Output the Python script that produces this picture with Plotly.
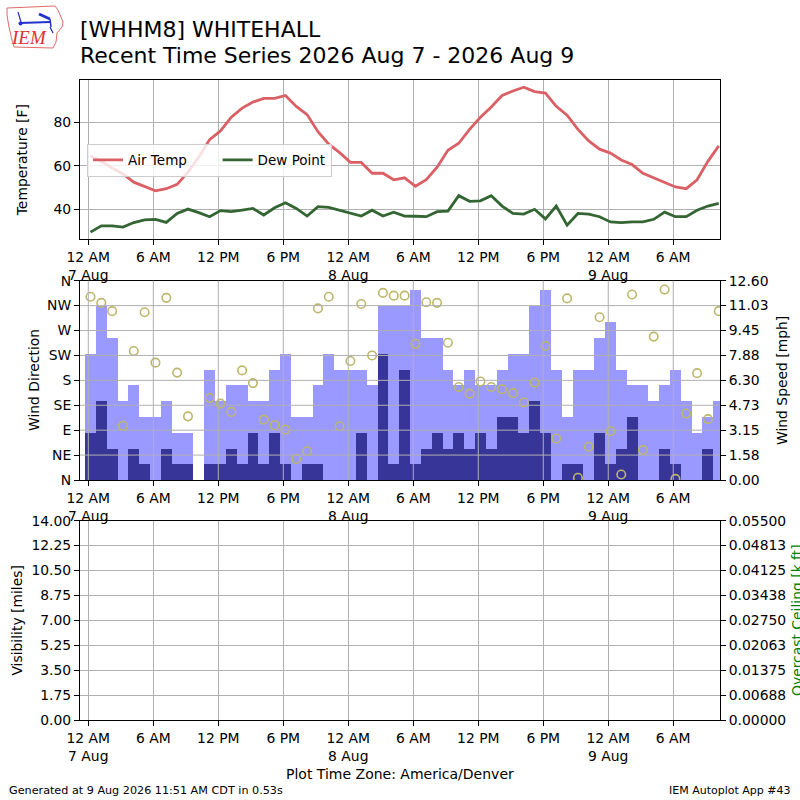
import pandas as pd
import plotly.graph_objects as go

# hourly obs, about 12 minutes past each hour (America/Denver)
times = pd.date_range("2026-08-07 00:12", periods=59, freq="h")

air_temp = [64.5, 62.0, 58.9, 56.2, 52.4, 50.5, 48.4, 49.4, 51.4, 57.0,
            64.0, 72.0, 76.0, 82.3, 86.5, 89.3, 91.0, 91.0, 92.3, 87.3,
            83.5, 75.6, 69.9, 66.0, 61.5, 61.5, 56.5, 56.5, 53.5, 54.4,
            50.5, 53.5, 59.3, 67.1, 70.3, 76.7, 82.3, 87.0, 92.3, 94.4,
            96.1, 94.1, 93.4, 87.3, 83.2, 76.7, 71.4, 67.6, 65.8, 62.6,
            60.5, 56.5, 54.4, 52.1, 50.2, 49.4, 53.5, 62.0, 69.1]
dew_point = [29.4, 32.3, 32.3, 31.7, 33.8, 35.0, 35.3, 33.9, 38.0, 40.0,
             38.4, 36.5, 39.3, 38.8, 39.5, 40.3, 37.3, 40.6, 42.9, 40.3,
             36.8, 41.1, 40.8, 39.5, 38.4, 36.8, 39.5, 36.8, 38.6, 36.8,
             36.7, 36.5, 38.8, 39.1, 46.2, 43.6, 43.8, 46.2, 41.4, 38.0,
             37.7, 39.9, 35.5, 41.4, 32.6, 38.0, 37.7, 36.5, 34.1, 33.8,
             34.1, 34.1, 35.3, 38.6, 36.5, 36.5, 39.5, 41.4, 42.6]
wind_gust = [8, 11, 9, 5, 6, 4, 4, 5, 3, 3,
             0, 7, 5, 6, 6, 5, 5, 7, 8, 4,
             4, 6, 8, 7, 7, 7, 6, 11, 11, 11,
             12, 9, 9, 7, 6, 7, 6, 6, 7, 8,
             8, 11, 12, 7, 4, 7, 7, 9, 10, 7,
             6, 6, 5, 6, 7, 5, 3, 4, 5]
wind_speed = [3, 5, 2, 0, 2, 1, 0, 2, 1, 1,
              0, 1, 1, 2, 1, 3, 1, 3, 1, 0,
              1, 1, 0, 0, 0, 3, 0, 8, 1, 7,
              1, 2, 3, 2, 3, 2, 3, 2, 4, 4,
              3, 5, 3, 0, 1, 1, 0, 3, 1, 2,
              4, 0, 0, 2, 1, 0, 0, 2, 0]
wind_dir = [331, 320, 305, 98, 233, 303, 212, 329, 194, 115,
            None, 148, 138, 123, 198, 175, 109, 99, 91, 38,
            52, 310, 331, 97, 215, 318, 225, 338, 333, 333,
            246, 321, 320, 248, 168, 156, 178, 168, 164, 157,
            140, 176, 242, 75, 328, 4, 60, 294, 88, 10,
            335, 54, 259, 344, 2, 120, 193, 110, 305]

x_ticks = pd.date_range("2026-08-07 00:00", periods=10, freq="6h")
x_ticktext = ["12 AM<br>7 Aug", "6 AM", "12 PM", "6 PM", "12 AM<br>8 Aug",
              "6 AM", "12 PM", "6 PM", "12 AM<br>9 Aug", "6 AM"]
x_range = ["2026-08-06 23:14", "2026-08-09 10:19"]

temp_ticks = [40, 60, 80]
dir_ticks = [0, 45, 90, 135, 180, 225, 270, 315, 360]
dir_labels = ["N", "NE", "E", "SE", "S", "SW", "W", "NW", "N"]
speed_ticks = [0, 1.575, 3.15, 4.725, 6.3, 7.875, 9.45, 11.025, 12.6]
speed_labels = ["0.00", "1.58", "3.15", "4.73", "6.30", "7.88", "9.45", "11.03", "12.60"]
vis_ticks = [0, 1.75, 3.5, 5.25, 7.0, 8.75, 10.5, 12.25, 14.0]
vis_labels = ["0.00", "1.75", "3.50", "5.25", "7.00", "8.75", "10.50", "12.25", "14.00"]
ceil_ticks = [0, 0.006875, 0.01375, 0.020625, 0.0275, 0.034375, 0.04125, 0.048125, 0.055]
ceil_labels = ["0.00000", "0.00688", "0.01375", "0.02063", "0.02750",
               "0.03438", "0.04125", "0.04813", "0.05500"]

FONT = "DejaVu Sans"
GRID = "#b0b0b0"
TS = 13.9
NBSP = "\u00a0"


def pp(xp, yp):
    # pixel -> paper (plot area is 80..720 both ways)
    return (xp - 80) / 640.0, (720 - yp) / 640.0


fig = go.Figure()

fig.add_trace(go.Scatter(x=times, y=air_temp, mode="lines", name="Air Temp" + NBSP * 6,
                         line=dict(color="#db6065", width=2.8), xaxis="x", yaxis="y"))
fig.add_trace(go.Scatter(x=times, y=dew_point, mode="lines", name="Dew Point",
                         line=dict(color="#346633", width=2.8), xaxis="x", yaxis="y"))

fig.add_trace(go.Bar(x=times, y=wind_gust, width=3600000, marker=dict(color="#9999ff", line=dict(width=0)),
                     showlegend=False, xaxis="x2", yaxis="y2"))
fig.add_trace(go.Bar(x=times, y=wind_speed, width=3600000, marker=dict(color="#373698", line=dict(width=0)),
                     showlegend=False, xaxis="x2", yaxis="y2"))
fig.add_trace(go.Scatter(x=times, y=wind_dir, mode="markers", showlegend=False,
                         marker=dict(symbol="circle-open", size=8.5, color="darkkhaki", line=dict(width=1.6)),
                         xaxis="x2", yaxis="y3"))

# empty visibility / ceiling panel
fig.add_trace(go.Scatter(x=[], y=[], showlegend=False, xaxis="x3", yaxis="y4"))
fig.add_trace(go.Scatter(x=[], y=[], showlegend=False, xaxis="x3", yaxis="y5"))

ax = dict(showline=True, linecolor="black", linewidth=1, mirror=True, ticks="outside",
          ticklen=5, tickwidth=1, tickcolor="black", gridcolor=GRID, gridwidth=1,
          zeroline=False, automargin=False, tickfont=dict(size=TS, color="black"))
xax = dict(ax, type="date", range=x_range, tickmode="array", tickvals=x_ticks, ticktext=x_ticktext)

fig.update_layout(
    width=800, height=800,
    margin=dict(l=80, r=80, t=80, b=80),
    paper_bgcolor="white", plot_bgcolor="white",
    font=dict(family=FONT, color="black", size=TS),
    barmode="overlay", bargap=0,
    xaxis=dict(xax, anchor="y"),
    xaxis2=dict(xax, anchor="y2", showgrid=False),
    xaxis3=dict(xax, anchor="y4"),
    yaxis=dict(ax, domain=[0.751, 1.0], range=[26.07, 99.44], tickvals=temp_ticks,
               title=dict(text="Temperature [F]", font=dict(size=TS), standoff=22)),
    yaxis2=dict(ax, domain=[0.375, 0.6864], anchor="x2", side="right", range=[0, 12.6],
                tickvals=speed_ticks, ticktext=speed_labels, showgrid=False,
                title=dict(text="Wind Speed [mph]", font=dict(size=TS), standoff=9)),
    yaxis3=dict(ax, anchor="x2", overlaying="y2", side="left", range=[0, 360],
                tickvals=dir_ticks, ticktext=dir_labels, showgrid=False),
    yaxis4=dict(ax, domain=[0, 0.3114], anchor="x3", range=[0, 14],
                tickvals=vis_ticks, ticktext=vis_labels,
                title=dict(text="Visibility [miles]", font=dict(size=TS), standoff=5)),
    yaxis5=dict(ax, anchor="x3", overlaying="y4", side="right", range=[0, 0.055],
                tickvals=ceil_ticks, ticktext=ceil_labels, showgrid=False),
    legend=dict(x=0.011, y=0.9005, xanchor="left", yanchor="top", orientation="h",
                bgcolor="rgba(255,255,255,0.8)", bordercolor="#cccccc", borderwidth=1,
                font=dict(size=13.5), itemwidth=30),
)

# wind panel grid is drawn over the bars
shapes = []
for t in x_ticks:
    shapes.append(dict(type="line", xref="x2", yref="y2 domain", x0=t, x1=t, y0=0, y1=1,
                       line=dict(color=GRID, width=1), layer="above"))
for v in speed_ticks[1:-1]:
    shapes.append(dict(type="line", xref="x2 domain", yref="y2", x0=0, x1=1, y0=v, y1=v,
                       line=dict(color=GRID, width=1), layer="above"))

# IEM logo, rough drawing
iowa = [(7, 8), (55, 6), (58, 10), (63, 22), (62, 27), (57, 33), (56, 42), (53, 48),
        (14, 47), (12, 40), (9, 27), (7, 15), (7, 8)]
path = "M " + " L ".join("%.5f,%.5f" % pp(a, b) for a, b in iowa) + " Z"
shapes.append(dict(type="path", xref="paper", yref="paper", path=path,
                   line=dict(color="#e06a6a", width=1)))
for (a, b, c, d, w) in [(20, 23, 50, 22, 2), (39, 14, 50, 19, 3), (50, 19, 51, 27, 1.5),
                        (18, 12, 21, 22, 1.2), (50, 27, 53, 33, 1.2)]:
    x0, y0 = pp(a, b)
    x1, y1 = pp(c, d)
    shapes.append(dict(type="line", xref="paper", yref="paper", x0=x0, y0=y0, x1=x1, y1=y1,
                       line=dict(color="#2233cc", width=w)))
cx0, cy0 = pp(18.5, 21.5)
cx1, cy1 = pp(22.5, 25.5)
shapes.append(dict(type="circle", xref="paper", yref="paper", x0=cx0, y0=cy0, x1=cx1, y1=cy1,
                   fillcolor="#2233cc", line=dict(width=0)))
fig.update_layout(shapes=shapes)


def note(text, xp, yp, size, xanchor="left", color="black", family=FONT, angle=0):
    x, y = pp(xp, yp)
    fig.add_annotation(text=text, x=x, y=y, xref="paper", yref="paper", xanchor=xanchor,
                       yanchor="middle", showarrow=False, borderpad=0, textangle=angle,
                       font=dict(size=size, color=color, family=family))


note("[WHHM8] WHITEHALL", 79, 29, 22)
note("Recent Time Series 2026 Aug 7 - 2026 Aug 9", 79, 55, 22)
note("<i>IEM</i>", 29, 38, 19, "center", "#e03030", "Liberation Serif")
note("Wind Direction", 34, 380, TS, "center", angle=-90)
note("Overcast Ceiling [k ft]", 797, 620, TS, "center", color="green", angle=-90)
note("Plot Time Zone: America/Denver", 400, 774, 14, "center")
note("Generated at 9 Aug 2026 11:51 AM CDT in 0.53s", 8, 790, 11.2)
note("IEM Autoplot App #43", 792, 790, 11, "right")

fig.write_html("out.html", config={"displayModeBar": False},
               post_script="document.body.style.margin='0';")
